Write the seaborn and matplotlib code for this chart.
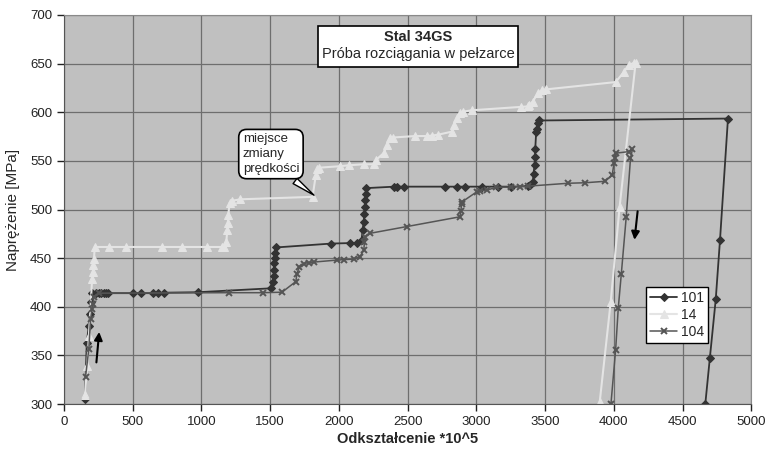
import numpy as np
import pandas as pd
import seaborn as sns
import matplotlib.pyplot as plt
from matplotlib.patches import Rectangle

# series 101 (dark, diamonds)
x101 = [152, 166, 180, 190, 200, 205, 234, 253, 272, 289, 308, 320, 499, 562, 646, 687, 730, 976,
        1506, 1520, 1525, 1528, 1530, 1532, 1535, 1542,
        1945, 2080, 2133, 2165, 2172, 2180, 2185, 2188, 2192, 2195, 2200,
        2403, 2419, 2470, 2772, 2856, 2916, 3044, 3157, 3254,
        3374, 3391, 3410, 3416, 3423, 3426, 3428, 3435, 3440, 3447, 3454,
        4830, 4772, 4741, 4698, 4665]
y101 = [305, 363, 380, 393, 405, 414, 414, 414, 414, 414, 414, 414, 414, 414, 414, 414, 414.5, 415,
        419, 425, 432, 438, 445, 450, 455, 461,
        465, 465.5, 465.5, 468.5, 479, 487, 495, 503, 510, 516, 522,
        523.5, 523.5, 523.5, 523.5, 523.5, 523.5, 523.5, 523.5, 523.5,
        524, 525, 528, 537, 546, 554, 562, 580, 583, 588.5, 591.5,
        593.5, 468.5, 407.5, 347, 300]

# series 14 (light, triangles)
x14 = [152, 169, 181, 205, 210, 214, 218, 224,
       330, 451, 716, 860, 1044, 1152, 1164,
       1181, 1188, 1192, 1195, 1205, 1222, 1284,
       1808, 1832, 1844, 1856,
       2008, 2073, 2181, 2258, 2270, 2326, 2350, 2374, 2393,
       2552, 2643, 2675, 2724, 2820, 2839, 2856, 2880, 2900, 2965,
       3326, 3374, 3386, 3410, 3447, 3478, 3507,
       4013, 4071, 4107, 4143, 4158,
       4042, 3977, 3897]
y14 = [309, 339, 370, 429, 436, 443, 449, 461.5,
       461.5, 461.5, 461.5, 461.5, 461.5, 461.5, 461.5,
       467, 479, 486, 494, 507, 509, 510.5,
       513, 535.5, 542, 543,
       544.5, 545.5, 546.5, 546.5, 551, 558, 566, 573, 574,
       575.5, 575.5, 576, 577, 580, 587, 594, 599.5, 600.5, 602,
       605.5, 606, 607.5, 611, 619.5, 623, 623.5,
       631, 641, 648.5, 650.5, 650.5,
       503, 405, 302]

# series 104 (mid gray, stars)
x104 = [157, 181, 193, 205, 212, 217, 253,
        1198, 1446, 1586,
        1687, 1694, 1711, 1747, 1783, 1820,
        1984, 2037, 2109, 2152, 2181, 2186, 2193, 2225,
        2495, 2880, 2887, 2892, 2897,
        3001, 3025, 3080, 3145, 3254, 3314, 3374,
        3670, 3791, 3936, 3988, 4001, 4008, 4018,
        4109, 4135, 4121,
        4090, 4054, 4032, 4013, 3979]
y104 = [328, 357, 387, 398, 403, 410, 414,
        414.5, 414.5, 415,
        426, 434, 440.5, 444.5, 445.5, 446,
        448, 448.5, 449, 451.5, 458, 467, 472, 475.5,
        482.5, 492.5, 498, 505.5, 508,
        518, 519.5, 520, 523, 523, 523.5, 524,
        527, 527.5, 529, 535.5, 547.5, 552.5, 558,
        559.5, 562, 552.5,
        492.5, 433.5, 398.5, 356, 300.5]

x_ticks = [0, 500, 1000, 1500, 2000, 2500, 3000, 3500, 4000, 4500, 5000]
y_ticks = [300, 350, 400, 450, 500, 550, 600, 650, 700]

sns.set_style("ticks")
plt.rcParams['font.family'] = ['Liberation Sans', 'DejaVu Sans']

fig = plt.figure(figsize=(7.68, 4.53), dpi=100)
ax = fig.add_axes([0.0833, 0.108, 0.895, 0.859])
ax.set_facecolor('#c0c0c0')

sns.lineplot(x=x101, y=y101, sort=False, estimator=None, ax=ax, color='#333333',
             lw=1.3, marker='D', markersize=4.5, markeredgecolor='#333333', label='101')
sns.lineplot(x=x14, y=y14, sort=False, estimator=None, ax=ax, color='#e4e4e4',
             lw=1.5, marker='^', markersize=5.5, markeredgecolor='#e4e4e4', label='14')
sns.lineplot(x=x104, y=y104, sort=False, estimator=None, ax=ax, color='#555555',
             lw=1.1, marker='x', markersize=4.5, markeredgewidth=1.4,
             markeredgecolor='#555555', label='104')

ax.set_xlim(0, 5000)
ax.set_ylim(300, 700)
ax.set_xticks(x_ticks)
ax.set_yticks(y_ticks)
ax.grid(True, color='#6e6e6e', lw=0.9)
ax.set_axisbelow(True)
ax.tick_params(labelsize=9.5, colors='#222222', length=5, width=1)
for s in ['top', 'right']:
    ax.spines[s].set_color('#8a8a8a')
for s in ['left', 'bottom']:
    ax.spines[s].set_color('#555555')

ax.set_xlabel('Odkształcenie *10^5', fontsize=10.5, fontweight='bold', labelpad=3)
ax.set_ylabel('Naprężenie [MPa]', fontsize=11, labelpad=7)

# title box
ax.add_patch(Rectangle((1851, 647), 1453, 42, facecolor='white', edgecolor='black', lw=1.2, zorder=5))
ax.text(2578, 677, 'Stal 34GS', ha='center', va='center', fontsize=10.5, fontweight='bold', zorder=6)
ax.text(2578, 660, 'Próba rozciągania w pełzarce', ha='center', va='center', fontsize=10.5, zorder=6)

# callout
ax.annotate('miejsce\nzmiany\nprędkości', xy=(1835, 513), xytext=(1300, 557),
            ha='left', va='center', fontsize=9.5, linespacing=1.3, zorder=6,
            bbox=dict(boxstyle='round,pad=0.3,rounding_size=0.6', fc='white', ec='black', lw=1.2),
            arrowprops=dict(arrowstyle='wedge,tail_width=0.5', fc='white', ec='black', lw=1,
                            relpos=(0.78, 0.0)))

# direction arrows
ax.annotate('', xy=(258, 377), xytext=(234, 340),
            arrowprops=dict(arrowstyle='-|>', color='black', lw=1.5, mutation_scale=12))
ax.annotate('', xy=(4148, 466), xytext=(4175, 501),
            arrowprops=dict(arrowstyle='-|>', color='black', lw=1.5, mutation_scale=12))

leg = ax.legend(loc='lower left', bbox_to_anchor=(0.847, 0.157), borderaxespad=0, fontsize=10,
                frameon=True, fancybox=False, handlelength=1.9, borderpad=0.3,
                labelspacing=0.2, handletextpad=0.3)
leg.get_frame().set_edgecolor('black')
leg.get_frame().set_facecolor('white')
leg.get_frame().set_alpha(1)

fig.savefig('out.png', dpi=100)
